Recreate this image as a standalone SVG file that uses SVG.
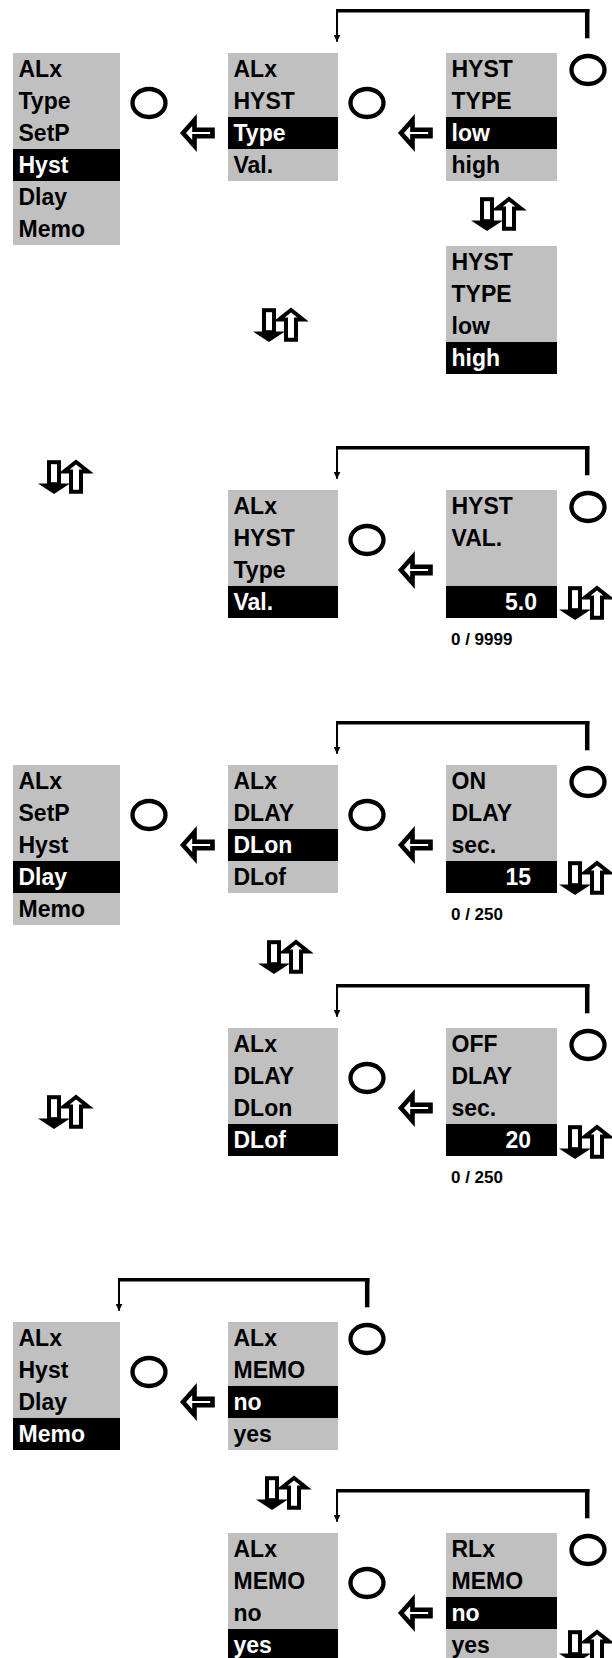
<svg xmlns="http://www.w3.org/2000/svg" xmlns:xlink="http://www.w3.org/1999/xlink" width="612" height="1658" viewBox="0 0 612 1658">
<style>
.bx{fill:#c0c0c0}
.hl{fill:#000}
.t{font-family:"Liberation Sans",Arial,Helvetica,sans-serif;font-weight:bold;font-size:23px;fill:#000}
.w{fill:#fff}
.r{font-size:17px}
.e{text-anchor:end}
.btn{fill:none;stroke:#000;stroke-width:4.3}
.arr{fill:#fff;stroke:#000;stroke-width:4.6;stroke-linejoin:miter}
.h{fill:none;stroke:#000;stroke-width:3.5}
.rv{fill:none;stroke:#000;stroke-width:4.5}
.lv{fill:none;stroke:#000;stroke-width:2}
</style>
<defs>
<marker id="ah" viewBox="0 0 7 7" markerWidth="7" markerHeight="7" refX="7" refY="3.5" orient="auto" markerUnits="userSpaceOnUse"><path d="M0,0 L7,3.5 L0,7 Z" fill="#000"/></marker>
<path id="la" class="arr" d="M0,0 L11.5,-13 L11.5,-3.2 L29.5,-3.2 L29.5,3.2 L11.5,3.2 L11.5,13 Z"/>
<g id="ud">
<rect x="11" y="2.2" width="10" height="22" fill="#fff" stroke="#000" stroke-width="4"/>
<polygon points="0,23.5 32,23.5 16,34" fill="#000"/>
<path d="M33,31.8 V11.5 H26 L38,2 L50,11.5 H43 V31.8 Z" fill="#fff" stroke="#000" stroke-width="4" stroke-linejoin="miter"/>
</g>
</defs>

<g id="connectors">
<path class="h" d="M336,10.8 H589.4"/><path class="rv" d="M587.2,9.1 V38.3"/><path class="lv" d="M337,9.1 V41.7" marker-end="url(#ah)"/>
<path class="h" d="M336,447.8 H589.4"/><path class="rv" d="M587.2,446.1 V475.3"/><path class="lv" d="M337,446.1 V478.7" marker-end="url(#ah)"/>
<path class="h" d="M336,722.8 H589.4"/><path class="rv" d="M587.2,721.1 V750.3"/><path class="lv" d="M337,721.1 V753.7" marker-end="url(#ah)"/>
<path class="h" d="M336,985.8 H589.4"/><path class="rv" d="M587.2,984.1 V1013.3"/><path class="lv" d="M337,984.1 V1016.7" marker-end="url(#ah)"/>
<path class="h" d="M118,1279.8 H369.4"/><path class="rv" d="M367.2,1278.1 V1307.3"/><path class="lv" d="M119,1278.1 V1310.7" marker-end="url(#ah)"/>
<path class="h" d="M336,1490.8 H589.4"/><path class="rv" d="M587.2,1489.1 V1518.3"/><path class="lv" d="M337,1489.1 V1521.7" marker-end="url(#ah)"/>
</g>

<!-- Section 1 -->
<g id="A1">
<rect class="bx" x="13" y="53" width="107" height="192"/><rect class="hl" x="13" y="149" width="107" height="32"/>
<text class="t" x="18.5" y="77">ALx</text><text class="t" x="18.5" y="109">Type</text><text class="t" x="18.5" y="141">SetP</text><text class="t w" x="18.5" y="173">Hyst</text><text class="t" x="18.5" y="205">Dlay</text><text class="t" x="18.5" y="237">Memo</text>
</g>
<g id="A2">
<rect class="bx" x="228" y="53" width="110" height="128"/><rect class="hl" x="228" y="117" width="110" height="32"/>
<text class="t" x="233.5" y="77">ALx</text><text class="t" x="233.5" y="109">HYST</text><text class="t w" x="233.5" y="141">Type</text><text class="t" x="233.5" y="173">Val.</text>
</g>
<g id="A3">
<rect class="bx" x="446" y="53" width="111" height="128"/><rect class="hl" x="446" y="117" width="111" height="32"/>
<text class="t" x="451.5" y="77">HYST</text><text class="t" x="451.5" y="109">TYPE</text><text class="t w" x="451.5" y="141">low</text><text class="t" x="451.5" y="173">high</text>
</g>
<g id="A4">
<rect class="bx" x="446" y="246" width="111" height="128"/><rect class="hl" x="446" y="342" width="111" height="32"/>
<text class="t" x="451.5" y="270">HYST</text><text class="t" x="451.5" y="302">TYPE</text><text class="t" x="451.5" y="334">low</text><text class="t w" x="451.5" y="366">high</text>
</g>
<g id="s1-controls">
<ellipse class="btn" cx="149" cy="103" rx="16.5" ry="14"/>
<ellipse class="btn" cx="367" cy="103" rx="16.5" ry="14"/>
<ellipse class="btn" cx="588" cy="70" rx="16.5" ry="14"/>
<use xlink:href="#la" href="#la" transform="translate(183,133)"/>
<use xlink:href="#la" href="#la" transform="translate(401,133)"/>
<use xlink:href="#ud" href="#ud" transform="translate(471,197)"/>
<use xlink:href="#ud" href="#ud" transform="translate(253,308)"/>
</g>

<!-- Section 2 -->
<g id="B1">
<rect class="bx" x="228" y="490" width="110" height="128"/><rect class="hl" x="228" y="586" width="110" height="32"/>
<text class="t" x="233.5" y="514">ALx</text><text class="t" x="233.5" y="546">HYST</text><text class="t" x="233.5" y="578">Type</text><text class="t w" x="233.5" y="610">Val.</text>
</g>
<g id="B2">
<rect class="bx" x="446" y="490" width="111" height="128"/><rect class="hl" x="446" y="586" width="111" height="32"/>
<text class="t" x="451.5" y="514">HYST</text><text class="t" x="451.5" y="546">VAL.</text><text class="t w e" x="537" y="610">5.0</text>
<text class="t r" x="451" y="645">0 / 9999</text>
</g>
<g id="s2-controls">
<ellipse class="btn" cx="367" cy="540" rx="16.5" ry="14"/>
<ellipse class="btn" cx="588" cy="507" rx="16.5" ry="14"/>
<use xlink:href="#la" href="#la" transform="translate(401,570)"/>
<use xlink:href="#ud" href="#ud" transform="translate(38,460)"/>
<use xlink:href="#ud" href="#ud" transform="translate(559,586)"/>
</g>

<!-- Section 3 -->
<g id="C1">
<rect class="bx" x="13" y="765" width="107" height="160"/><rect class="hl" x="13" y="861" width="107" height="32"/>
<text class="t" x="18.5" y="789">ALx</text><text class="t" x="18.5" y="821">SetP</text><text class="t" x="18.5" y="853">Hyst</text><text class="t w" x="18.5" y="885">Dlay</text><text class="t" x="18.5" y="917">Memo</text>
</g>
<g id="C2">
<rect class="bx" x="228" y="765" width="110" height="128"/><rect class="hl" x="228" y="829" width="110" height="32"/>
<text class="t" x="233.5" y="789">ALx</text><text class="t" x="233.5" y="821">DLAY</text><text class="t w" x="233.5" y="853">DLon</text><text class="t" x="233.5" y="885">DLof</text>
</g>
<g id="C3">
<rect class="bx" x="446" y="765" width="111" height="128"/><rect class="hl" x="446" y="861" width="111" height="32"/>
<text class="t" x="451.5" y="789">ON</text><text class="t" x="451.5" y="821">DLAY</text><text class="t" x="451.5" y="853">sec.</text><text class="t w e" x="531" y="885">15</text>
<text class="t r" x="451" y="920">0 / 250</text>
</g>
<g id="s3-controls">
<ellipse class="btn" cx="149" cy="815" rx="16.5" ry="14"/>
<ellipse class="btn" cx="367" cy="815" rx="16.5" ry="14"/>
<ellipse class="btn" cx="588" cy="782" rx="16.5" ry="14"/>
<use xlink:href="#la" href="#la" transform="translate(183,845)"/>
<use xlink:href="#la" href="#la" transform="translate(401,845)"/>
<use xlink:href="#ud" href="#ud" transform="translate(559,861)"/>
<use xlink:href="#ud" href="#ud" transform="translate(258,940)"/>
</g>

<!-- Section 4 -->
<g id="D1">
<rect class="bx" x="228" y="1028" width="110" height="128"/><rect class="hl" x="228" y="1124" width="110" height="32"/>
<text class="t" x="233.5" y="1052">ALx</text><text class="t" x="233.5" y="1084">DLAY</text><text class="t" x="233.5" y="1116">DLon</text><text class="t w" x="233.5" y="1148">DLof</text>
</g>
<g id="D2">
<rect class="bx" x="446" y="1028" width="111" height="128"/><rect class="hl" x="446" y="1124" width="111" height="32"/>
<text class="t" x="451.5" y="1052">OFF</text><text class="t" x="451.5" y="1084">DLAY</text><text class="t" x="451.5" y="1116">sec.</text><text class="t w e" x="531" y="1148">20</text>
<text class="t r" x="451" y="1183">0 / 250</text>
</g>
<g id="s4-controls">
<ellipse class="btn" cx="367" cy="1078" rx="16.5" ry="14"/>
<ellipse class="btn" cx="588" cy="1045" rx="16.5" ry="14"/>
<use xlink:href="#la" href="#la" transform="translate(401,1108)"/>
<use xlink:href="#ud" href="#ud" transform="translate(559,1125)"/>
<use xlink:href="#ud" href="#ud" transform="translate(38,1095)"/>
</g>

<!-- Section 5 -->
<g id="E1">
<rect class="bx" x="13" y="1322" width="107" height="128"/><rect class="hl" x="13" y="1418" width="107" height="32"/>
<text class="t" x="18.5" y="1346">ALx</text><text class="t" x="18.5" y="1378">Hyst</text><text class="t" x="18.5" y="1410">Dlay</text><text class="t w" x="18.5" y="1442">Memo</text>
</g>
<g id="E2">
<rect class="bx" x="228" y="1322" width="110" height="128"/><rect class="hl" x="228" y="1386" width="110" height="32"/>
<text class="t" x="233.5" y="1346">ALx</text><text class="t" x="233.5" y="1378">MEMO</text><text class="t w" x="233.5" y="1410">no</text><text class="t" x="233.5" y="1442">yes</text>
</g>
<g id="s5-controls">
<ellipse class="btn" cx="149" cy="1372" rx="16.5" ry="14"/>
<ellipse class="btn" cx="367" cy="1339" rx="16.5" ry="14"/>
<use xlink:href="#la" href="#la" transform="translate(183,1402)"/>
<use xlink:href="#ud" href="#ud" transform="translate(256,1476)"/>
</g>

<!-- Section 6 -->
<g id="F1">
<rect class="bx" x="228" y="1533" width="110" height="128"/><rect class="hl" x="228" y="1629" width="110" height="32"/>
<text class="t" x="233.5" y="1557">ALx</text><text class="t" x="233.5" y="1589">MEMO</text><text class="t" x="233.5" y="1621">no</text><text class="t w" x="233.5" y="1653">yes</text>
</g>
<g id="F2">
<rect class="bx" x="446" y="1533" width="111" height="128"/><rect class="hl" x="446" y="1597" width="111" height="32"/>
<text class="t" x="451.5" y="1557">RLx</text><text class="t" x="451.5" y="1589">MEMO</text><text class="t w" x="451.5" y="1621">no</text><text class="t" x="451.5" y="1653">yes</text>
</g>
<g id="s6-controls">
<ellipse class="btn" cx="367" cy="1583" rx="16.5" ry="14"/>
<ellipse class="btn" cx="588" cy="1550" rx="16.5" ry="14"/>
<use xlink:href="#la" href="#la" transform="translate(401,1613)"/>
<use xlink:href="#ud" href="#ud" transform="translate(559,1630)"/>
</g>
</svg>
